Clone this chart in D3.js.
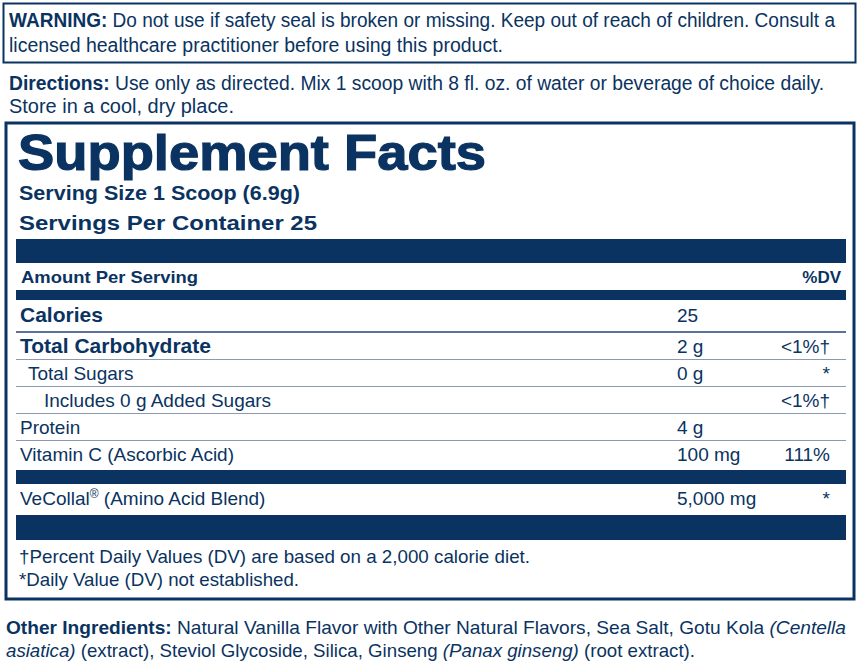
<!DOCTYPE html>
<html><head><meta charset="utf-8">
<script src="https://cdn.jsdelivr.net/npm/d3@7"></script>
<style>body{margin:0;background:#fff}text{font-family:"Liberation Sans Narrow","Liberation Sans",Arial,sans-serif;fill:#0a3361}</style>
</head><body><div id="label"></div>
<script>
// label data
var nutrients = ["Calories", "Total Carbohydrate", "Total Sugars", "Includes 0 g Added Sugars", "Protein", "Vitamin C (Ascorbic Acid)"];
var amounts = ["25", "2 g", "0 g", "", "4 g", "100 mg"];
var dailyValues = ["", "<1%\u2020", "*", "<1%\u2020", "", "111%"];
var indents = [0, 0, 1, 2, 0, 0];
var bolds = [true, true, false, false, false, false];
var blendName = "VeCollal";
var blendAmount = "5,000 mg";
var blendDV = "*";

var navy = "#0a3361";
var W = 859, H = 672;

var svg = d3.select("#label").append("svg").attr("width", W).attr("height", H);

// warning box
svg.append("rect").attr("x", 3.5).attr("y", 3.5).attr("width", 852).attr("height", 59)
  .attr("fill", "none").attr("stroke", navy).attr("stroke-width", 2);

function para(x, y, parts, size, w) {
  var t = svg.append("text").attr("x", x).attr("y", y).attr("font-size", size);
  if (w) t.attr("textLength", w).attr("lengthAdjust", "spacingAndGlyphs");
  parts.forEach(function(p) {
    var s = t.append("tspan").text(p[0]);
    if (p[1] == "b") s.attr("font-weight", "bold");
    if (p[1] == "i") s.attr("font-style", "italic");
  });
  return t;
}

para(9, 27, [["WARNING:", "b"], [" Do not use if safety seal is broken or missing. Keep out of reach of children. Consult a"]], 20, 826);
para(9, 52, [["licensed healthcare practitioner before using this product."]], 20, 494);
para(9, 90, [["Directions:", "b"], [" Use only as directed. Mix 1 scoop with 8 fl. oz. of water or beverage of choice daily."]], 20, 815);
para(9, 113, [["Store in a cool, dry place."]], 20, 225);

// facts box
svg.append("rect").attr("x", 6).attr("y", 123).attr("width", 848).attr("height", 476)
  .attr("fill", "none").attr("stroke", navy).attr("stroke-width", 3);

svg.append("text").attr("x", 18).attr("y", 170).attr("font-size", 50).attr("font-weight", "bold")
  .attr("font-family", "Liberation Sans, Arial").attr("stroke", navy).attr("stroke-width", 1.2)
  .attr("textLength", 468).attr("lengthAdjust", "spacingAndGlyphs")
  .text("Supplement Facts");
para(19, 200, [["Serving Size 1 Scoop (6.9g)", "b"]], 21, 281);
para(19, 230, [["Servings Per Container 25", "b"]], 21, 298);

var left = 16, right = 846;
svg.append("rect").attr("x", left).attr("y", 239).attr("width", right - left).attr("height", 24).attr("fill", navy);
para(21, 283, [["Amount Per Serving", "b"]], 17, 177);
svg.append("text").attr("x", 841).attr("y", 283).attr("text-anchor", "end").attr("font-size", 17)
  .attr("font-weight", "bold").text("%DV");
svg.append("rect").attr("x", left).attr("y", 290).attr("width", right - left).attr("height", 10).attr("fill", navy);

// rows
var y = d3.scaleBand().domain(d3.range(nutrients.length)).range([306, 468]).paddingInner(0);
var rows = svg.selectAll("g.row").data(nutrients).enter().append("g").attr("class", "row")
  .attr("transform", function(d, i) { return "translate(0," + y(i) + ")"; });

rows.append("text").attr("x", function(d, i) { return 20 + indents[i] * 8 + (indents[i] == 2 ? 8 : 0); })
  .attr("y", function(d, i) { return i == 0 ? 16 : 20; })
  .attr("font-size", function(d, i) { return bolds[i] ? 21 : 19; })
  .attr("font-weight", function(d, i) { return bolds[i] ? "bold" : "normal"; })
  .text(function(d) { return d; });
rows.append("text").attr("x", 677).attr("y", function(d, i) { return i == 0 ? 16 : 20; })
  .attr("font-size", 19).text(function(d, i) { return amounts[i]; });
rows.append("text").attr("x", 830).attr("y", function(d, i) { return i == 0 ? 16 : 20; })
  .attr("text-anchor", "end").attr("font-size", 19).text(function(d, i) { return dailyValues[i]; });
rows.filter(function(d, i) { return i < nutrients.length - 1; }).append("rect")
  .attr("x", left).attr("y", function(d, i) { return i == 0 ? 25 : y.bandwidth() - 1; })
  .attr("width", right - left).attr("height", function(d, i) { return i == 0 ? 2 : 1; })
  .attr("fill", function(d, i) { return i == 0 ? "#5a7396" : "#8a9ab2"; });

svg.append("rect").attr("x", left).attr("y", 470).attr("width", right - left).attr("height", 14).attr("fill", navy);
var b = svg.append("text").attr("x", 20).attr("y", 505).attr("font-size", 19);
b.append("tspan").text(blendName);
b.append("tspan").attr("font-size", 12).attr("dy", -7).text("\u00AE");
b.append("tspan").attr("dy", 7).text(" (Amino Acid Blend)");
svg.append("text").attr("x", 677).attr("y", 505).attr("font-size", 19).text(blendAmount);
svg.append("text").attr("x", 830).attr("y", 505).attr("text-anchor", "end").attr("font-size", 19).text(blendDV);
svg.append("rect").attr("x", left).attr("y", 515).attr("width", right - left).attr("height", 25).attr("fill", navy);

para(19, 563, [["\u2020Percent Daily Values (DV) are based on a 2,000 calorie diet."]], 19, 511);
para(19, 586, [["*Daily Value (DV) not established."]], 19, 280);

para(6, 634, [["Other Ingredients:", "b"], [" Natural Vanilla Flavor with Other Natural Flavors, Sea Salt, Gotu Kola "], ["(Centella", "i"]], 19, 840);
para(6, 657, [["asiatica)", "i"], [" (extract), Steviol Glycoside, Silica, Ginseng "], ["(Panax ginseng)", "i"], [" (root extract)."]], 19, 689);
</script></body></html>
